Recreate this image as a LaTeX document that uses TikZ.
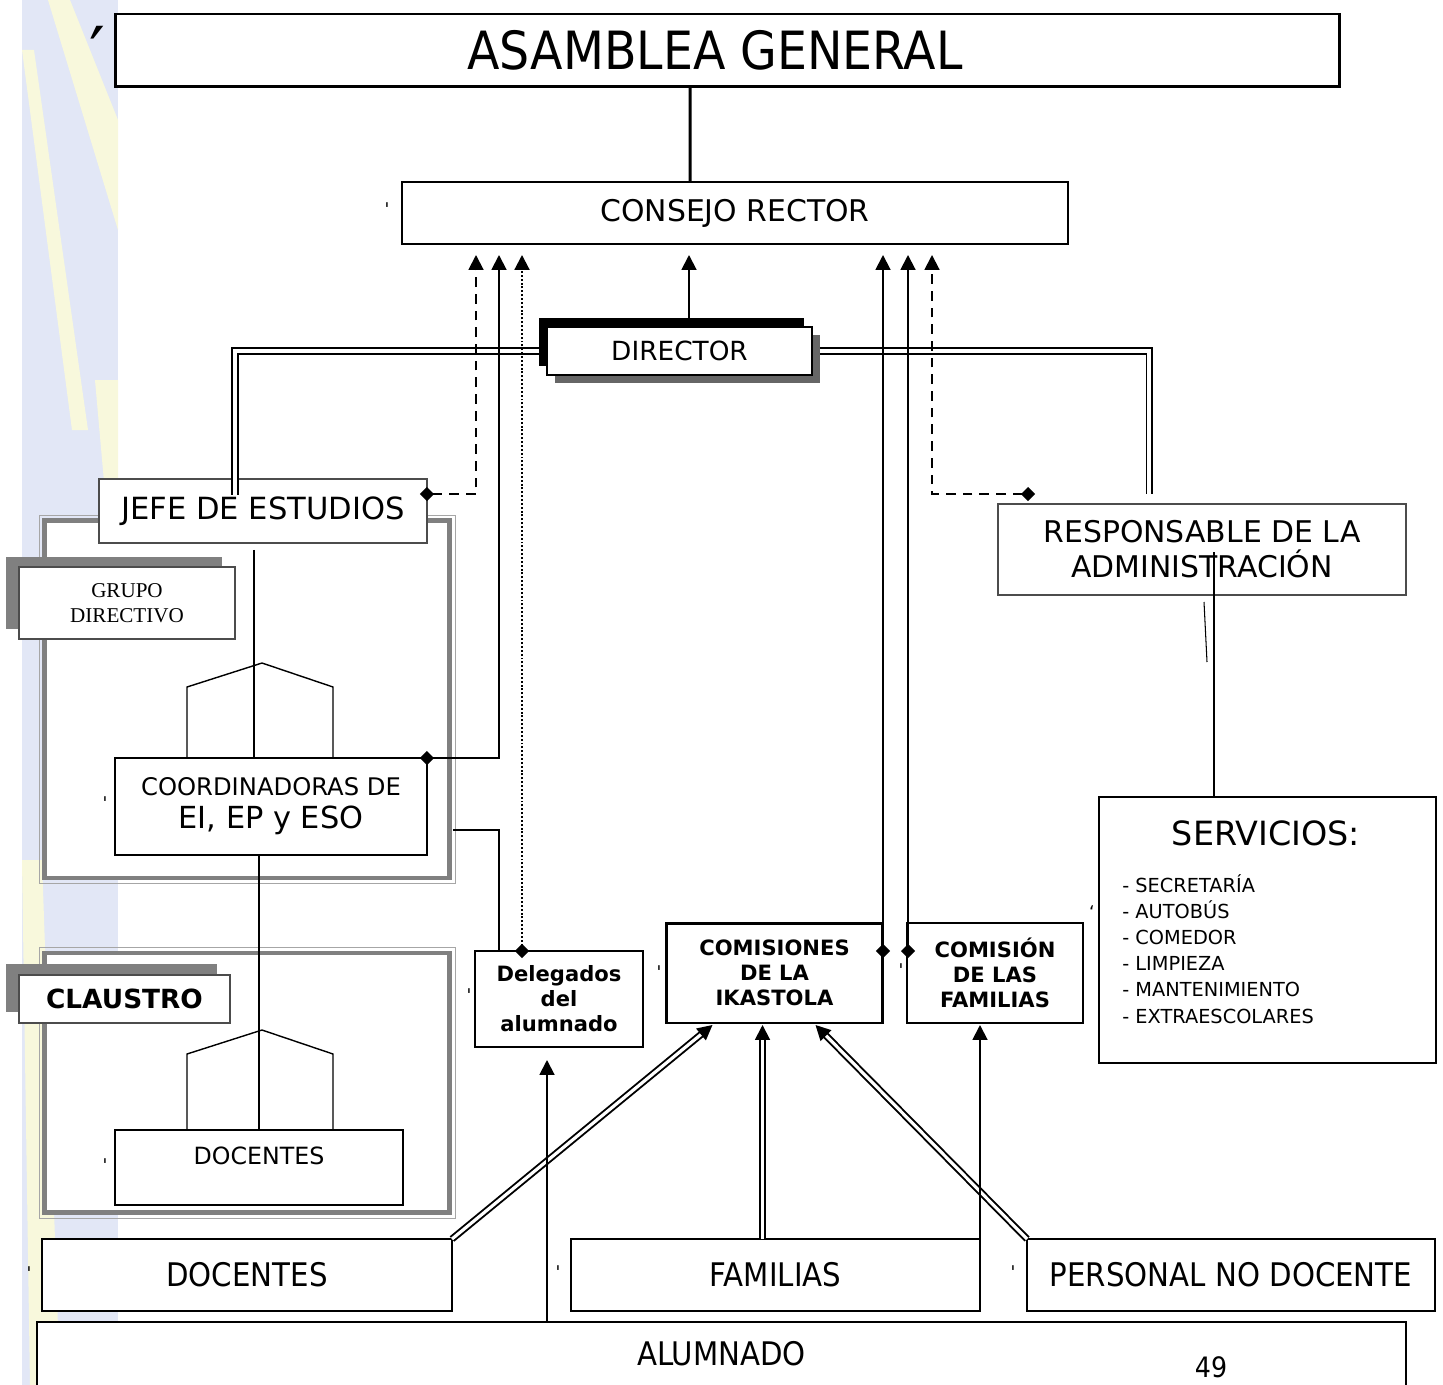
\documentclass[tikz,border=0pt]{standalone}
\usepackage{fontspec}
\setmainfont{DejaVu Sans}
\newfontfamily\narrowfont[FakeStretch=0.9]{DejaVu Sans}
\newfontfamily\serifont{Liberation Serif}
\usetikzlibrary{arrows.meta, shadows}
\definecolor{stripeblue}{RGB}{226,231,246}
\definecolor{stripeyellow}{RGB}{248,248,220}
\tikzset{tr/.tip={Triangle[length=8.5pt,width=8.5pt]}, dm/.tip={Diamond[length=8pt,width=8pt]}}
\tikzstyle{box} = [rectangle, draw=black, line width=1.1pt, fill=white, inner sep=0pt, outer sep=0pt, align=center]
\tikzstyle{graybox} = [rectangle, draw=black!70, line width=0.8pt, fill=white, inner sep=0pt, outer sep=0pt, align=center]
\tikzstyle{frame} = [rectangle, draw=black!50, line width=2.8pt, fill=white, inner sep=0pt, outer sep=0pt]
\tikzstyle{tick} = [inner sep=0pt, font=\fontsize{10}{10}\selectfont]
\tikzstyle{arrow} = [line width=1.1pt, -tr]
\tikzstyle{dline} = [line width=1.1pt, double, double distance=1.8pt]
\tikzstyle{dashline} = [line width=1.1pt, dash pattern=on 5.5pt off 4pt]
\tikzstyle{dotline} = [line width=1.2pt, dash pattern=on 1.1pt off 1.1pt]
\tikzstyle{treeline} = [line width=0.8pt]
\tikzstyle{bold} = [font=\bfseries\fontsize{12}{14.2}\selectfont]
\tikzstyle{bottom} = [box, line width=0.9pt, minimum width=8.18cm, minimum height=1.44cm, font=\narrowfont\fontsize{18.5}{22}\selectfont]

\begin{document}
\begin{tikzpicture}[x=0.02cm, y=-0.02cm]
\useasboundingbox (0,0) rectangle (1443,1385);

        % Stripe
        \fill [stripeblue] (22,0) rectangle (118,1385);
        \begin{scope}
            \clip (22,0) rectangle (118,1385);
            \fill [stripeyellow] (48,0) -- (70,0) -- (118,120) -- (118,230) -- cycle;
            \fill [stripeyellow] (22,50) -- (34,50) -- (88,430) -- (72,430) -- cycle;
            \fill [stripeyellow] (95,380) -- (118,380) -- (118,640) -- cycle;
            \fill [stripeyellow] (22,860) -- (42,860) -- (60,1385) -- (30,1385) -- cycle;
        \end{scope}

        % Frames
        \node (grupo) [frame, minimum width=8.1cm, minimum height=7.15cm] at (247,699.25) {};
        \draw [black!35, line width=0.5pt] ([shift={(-5.5,-5.5)}]grupo.north west) rectangle ([shift={(5.5,5.5)}]grupo.south east);
        \node (claustro) [frame, minimum width=8.1cm, minimum height=5.19cm] at (247,1082.75) {};
        \draw [black!35, line width=0.5pt] ([shift={(-5.5,-5.5)}]claustro.north west) rectangle ([shift={(5.5,5.5)}]claustro.south east);

        % Nodes
        \node (asamblea) [box, line width=1.7pt, minimum width=24.5cm, minimum height=1.46cm, font=\narrowfont\fontsize{30}{36}\selectfont] at (727.5,50.5) {ASAMBLEA GENERAL\hspace{0.5cm}};
        \node (consejo) [box, minimum width=13.32cm, minimum height=1.24cm, font=\fontsize{17}{20}\selectfont] at (735,213) {CONSEJO RECTOR};
        \node (director) [box, line width=0.8pt, minimum width=5.3cm, minimum height=0.96cm, font=\fontsize{15}{18}\selectfont,
            drop shadow={shadow xshift=0.16cm, shadow yshift=-0.16cm, fill=black!60, opacity=1},
            drop shadow={shadow xshift=-0.16cm, shadow yshift=0.18cm, fill=black, opacity=1}] at (679.5,351) {DIRECTOR};
        \node (jefe) [graybox, minimum width=6.56cm, minimum height=1.28cm, font=\fontsize{17.4}{21}\selectfont] at (263,511) {JEFE DE ESTUDIOS};
        \node (grupolab) [graybox, minimum width=4.32cm, minimum height=1.44cm, font=\serifont\fontsize{12}{14.2}\selectfont,
            drop shadow={shadow xshift=-0.26cm, shadow yshift=0.2cm, fill=black!50, opacity=1}] at (127,603) {GRUPO\\DIRECTIVO};
        \node (coord) [box, minimum width=6.24cm, minimum height=1.94cm, font=\fontsize{17.3}{18.7}\selectfont] at (271,806.5) {{\fontsize{13.8}{16}\selectfont COORDINADORAS DE}\\EI, EP y ESO};
        \node (claustrolab) [graybox, minimum width=4.22cm, minimum height=0.96cm, font=\bfseries\fontsize{15}{18}\selectfont,
            drop shadow={shadow xshift=-0.26cm, shadow yshift=0.22cm, fill=black!50, opacity=1}] at (124.5,999) {CLAUSTRO};
        \node (docin) [box, minimum width=5.76cm, minimum height=1.5cm, text depth=0.46cm, font=\fontsize{13.5}{16}\selectfont] at (259,1167.5) {DOCENTES};
        \node (delegados) [box, bold, minimum width=3.36cm, minimum height=1.92cm] at (559,999) {Delegados\\del\\alumnado};
        \node (comisiones) [box, bold, line width=1.7pt, minimum width=4.34cm, minimum height=2cm] at (774.5,973) {COMISIONES\\DE LA\\IKASTOLA};
        \node (comfam) [box, bold, minimum width=3.52cm, minimum height=2cm] at (995,973) {COMISIÓN\\DE LAS\\FAMILIAS};
        \node (resp) [graybox, minimum width=8.16cm, minimum height=1.82cm, font=\fontsize{17}{19.8}\selectfont] at (1202,549.5) {RESPONSABLE DE LA\\ADMINISTRACIÓN};
        \node (servicios) [box, line width=1.4pt, minimum width=6.74cm, minimum height=5.32cm] at (1267.5,930) {};
        \node (servtit) [inner sep=0pt, font=\fontsize{19}{22}\selectfont] at (1266,833) {SERVICIOS:};
        \node (servlist) [anchor=north west, align=left, inner sep=0pt, font=\fontsize{11}{14.9}\selectfont] at (1122,874) {- SECRETARÍA\\- AUTOBÚS\\- COMEDOR\\- LIMPIEZA\\- MANTENIMIENTO\\- EXTRAESCOLARES};
        \node (docbot) [bottom, minimum width=8.2cm] at (247,1275) {DOCENTES};
        \node (familias) [bottom] at (775.5,1275) {FAMILIAS};
        \node (personal) [bottom, minimum width=8.16cm] at (1231,1275) {PERSONAL NO DOCENTE};
        \node (alumnado) [bottom, anchor=north, minimum width=27.38cm, minimum height=1.96cm, text depth=0.72cm] at (721.5,1322) {ALUMNADO};
        \node (pagenum) [inner sep=0pt, font=\narrowfont\fontsize{16}{19}\selectfont] at (1211,1367) {49};

        % Ticks
        \node (t1) [tick, font=\fontsize{40}{40}\selectfont] at (97,52) {′};
        \node (t2) [tick] at (387,209) {\textquotesingle};
        \node (t3) [tick] at (105,803) {\textquotesingle};
        \node (t4) [tick] at (105,1165) {\textquotesingle};
        \node (t5) [tick] at (469,995) {\textquotesingle};
        \node (t6) [tick] at (659,972) {\textquotesingle};
        \node (t7) [tick] at (901,970) {\textquotesingle};
        \node (t8) [tick] at (1092,912) {`};
        \node (t9) [tick] at (29,1273) {\textquotesingle};
        \node (t10) [tick] at (558,1272) {\textquotesingle};
        \node (t11) [tick] at (1013,1272) {\textquotesingle};

        % Arrows
        \draw [line width=1.7pt] ([xshift=-0.75cm]asamblea.south) -- ([xshift=-0.9cm]consejo.north);
        \draw [dline] ([xshift=-0.16cm]director.west) -| ([shift={(-28,16)}]jefe.north);
        \draw [dline] ([xshift=0.16cm]director.east) -| ([shift={(-53,-10)}]resp.north);
        \draw [arrow] ([shift={(9.5,-9)}]director.north) -- ([shift={(-46,11)}]consejo.south);
        \draw [dashline, dm-tr, shorten <=-4pt] ([shift={(0,-17)}]jefe.east) -| ([shift={(-259,11)}]consejo.south);
        \draw [arrow, dm-tr, shorten <=-4pt] (coord.north east) -| ([shift={(-236,11)}]consejo.south);
        \draw [dotline, dm-tr, shorten <=-4pt] ([shift={(-37,0)}]delegados.north) -- ([shift={(-213,11)}]consejo.south);
        \draw [line width=0.85pt] ([shift={(3.5,130.75)}]grupo.east) -| ([shift={(-60,0)}]delegados.north);
        \draw [arrow, dm-tr, shorten <=-4pt] ([shift={(0,28)}]comisiones.north east) -- ([shift={(148,11)}]consejo.south);
        \draw [arrow, dm-tr, shorten <=-4pt] ([shift={(1,28)}]comfam.north west) -- ([shift={(173,11)}]consejo.south);
        \draw [dashline, dm-tr] ([shift={(37,-10)}]resp.north west) -| ([shift={(197,11)}]consejo.south);

        \draw [treeline] ([shift={(-9,7)}]jefe.south) -- ([shift={(-17,0)}]coord.north);
        \draw [treeline] ([shift={(-84,0)}]coord.north) -- ++(0,-71) -- ++(75,-24) -- ++(71,24) -- ++(0,71);
        \draw [treeline] ([shift={(-12,0)}]coord.south) -- (docin.north);
        \draw [treeline] ([shift={(-72,0)}]docin.north) -- ++(0,-76) -- ++(75,-24) -- ++(71,24) -- ++(0,76);
        \draw [treeline] ([shift={(12,2.5)}]resp.center) -- ([shift={(-53.5,0)}]servicios.north);
        \draw [line width=0.6pt] (1204,602) -- (1207,662);

        \draw [dline, -tr] (docbot.north east) -- ([shift={(-62,2)}]comisiones.south);
        \draw [dline, -tr] ([shift={(-13,0)}]familias.north) -- ([shift={(-12,2)}]comisiones.south);
        \draw [dline, -tr] (personal.north west) -- ([shift={(41,2)}]comisiones.south);
        \draw [arrow] (familias.north east) -- ([shift={(-15,2)}]comfam.south);
        \draw [arrow] ([shift={(-174.5,0)}]alumnado.north) -- ([shift={(-12,13)}]delegados.south);

\end{tikzpicture}
\end{document}
